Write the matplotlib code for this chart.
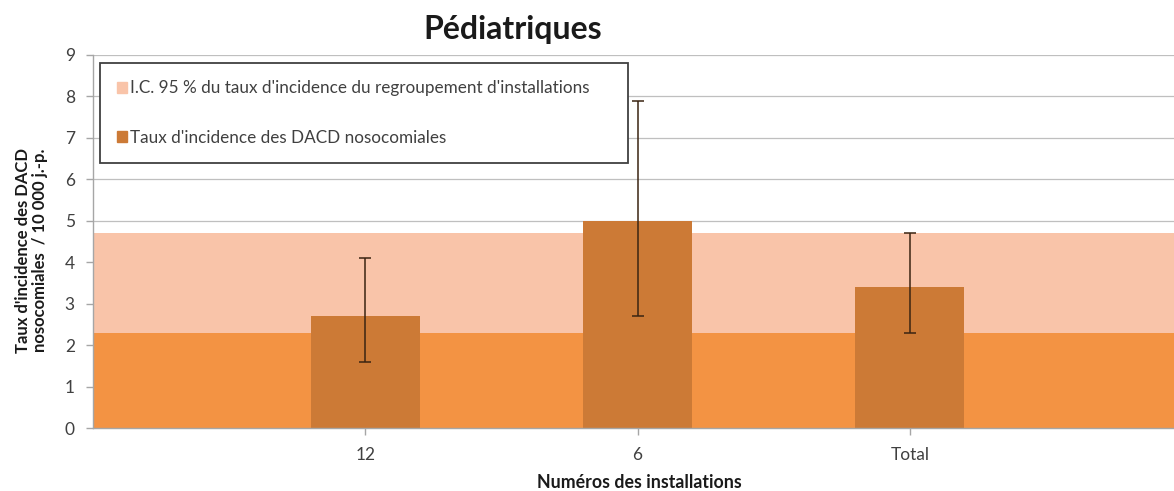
import matplotlib.pyplot as plt
from matplotlib.patches import Patch

plt.rcParams['font.family'] = ['Lato', 'DejaVu Sans']

# ---------- Data ---------------------
categories = ['12', '6', 'Total']
rates = [2.7, 5.0, 3.4]
err_low = [1.6, 2.7, 2.3]
err_high = [4.1, 7.9, 4.7]
ci_group = [2.3, 4.7]   # I.C. 95 % du regroupement

label_ci = "I.C. 95 % du taux d'incidence du regroupement d'installations"
label_rate = "Taux d'incidence des DACD nosocomiales"

# ---------- Style ---------------------
c_band_low = '#F39343'
c_band_high = '#F9C4A9'
c_bar = '#CC7A36'
c_err = '#3B2412'
c_text = '#404040'

fig = plt.figure(figsize=(11.74, 4.91), dpi=100)
ax = fig.add_axes([0.0792, 0.1283, 0.9208, 0.7597])

x = list(range(len(categories)))
yerr = [[r - lo for r, lo in zip(rates, err_low)],
        [hi - r for r, hi in zip(rates, err_high)]]

ax.axhspan(0, ci_group[0], color=c_band_low, lw=0, zorder=1)
ax.axhspan(ci_group[0], ci_group[1], color=c_band_high, lw=0, zorder=1)
ax.bar(x, rates, width=0.4, color=c_bar, zorder=2)
ax.errorbar(x, rates, yerr=yerr, fmt='none', ecolor=c_err, elinewidth=1.1,
            capsize=4, capthick=1.1, zorder=3)

ax.set_xlim(-1, 2.97)
ax.set_ylim(0, 9)
ax.set_yticks(range(0, 10))
ax.set_xticks(x)
ax.set_xticklabels(categories)
ax.grid(axis='y', color='#BFBFBF', lw=0.9, zorder=0)
ax.set_axisbelow(True)

for s in ['top', 'right']:
    ax.spines[s].set_visible(False)
for s in ['left', 'bottom']:
    ax.spines[s].set_color('#A6A6A6')
    ax.spines[s].set_linewidth(1.0)
    ax.spines[s].set_zorder(4)
ax.tick_params(axis='both', colors='#A6A6A6', labelcolor=c_text,
               labelsize=12.5, length=5, width=1.0)
ax.tick_params(axis='y', pad=8)
ax.tick_params(axis='x', pad=9)

fig.text(0.027, 0.49, "Taux d'incidence des DACD\nnosocomiales  / 10 000 j.-p.",
         fontsize=12, fontweight='bold', color='#1a1a1a', rotation=90,
         ha='center', va='center', linespacing=1.05)
fig.text(0.545, 0.018, 'Numéros des installations', fontsize=12.8,
         fontweight='bold', color='#1a1a1a', ha='center', va='center')
fig.text(0.437, 0.94, 'Pédiatriques', fontsize=23, fontweight='bold',
         color='#1a1a1a', ha='center', va='center')

handles = [Patch(color=c_band_high, label=label_ci),
           Patch(color=c_bar, label=label_rate)]
leg = ax.legend(handles=handles, loc='upper left',
                bbox_to_anchor=(0.0065, 0.978, 0.4885, 0.0), mode='expand',
                fontsize=12.3, handlelength=0.6, handleheight=0.6,
                handletextpad=0.15, labelspacing=1.95, borderpad=1.0,
                borderaxespad=0, fancybox=False, framealpha=1)
leg.get_frame().set_edgecolor('#404040')
leg.get_frame().set_linewidth(1.3)
leg.set_zorder(5)
for t in leg.get_texts():
    t.set_color(c_text)

fig.savefig('out.png', dpi=100)
